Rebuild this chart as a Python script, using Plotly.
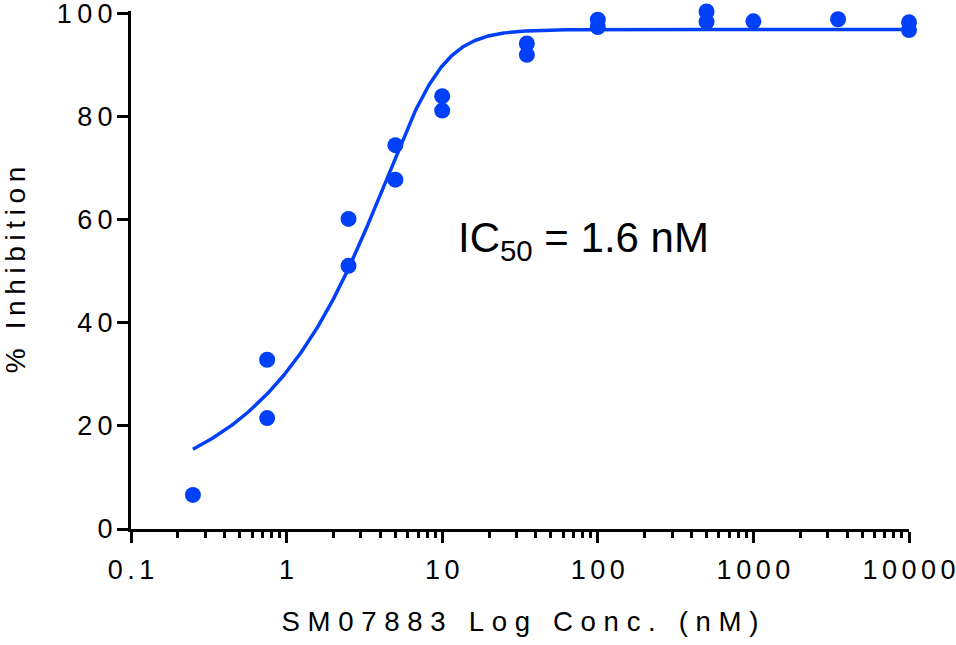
import numpy as np
import plotly.graph_objects as go

# ---- data ----
conc_nM = [0.25, 0.75, 0.75, 2.5, 2.5, 5, 5, 10, 10, 35, 35,
           100, 100, 500, 500, 1000, 3500, 10000, 10000]
inhibition = [6.6, 32.8, 21.5, 60.1, 51.0, 74.4, 67.7, 83.9, 81.1, 94.1, 91.9,
              98.7, 97.3, 100.3, 98.3, 98.4, 98.8, 98.2, 96.7]

# fitted (asymmetric logistic) curve parameters
fit_bottom, fit_top, fit_c, fit_hill, fit_asym = 5.0, 96.8, 7.31, 2.8, 0.23
curve_min, curve_max = 0.25, 10000

x_tick_vals = [0.1, 1, 10, 100, 1000, 10000]
x_tick_text = ["0.1", "1", "10", "100", "1000", "10000"]
y_tick_vals = [0, 20, 40, 60, 80, 100]
y_tick_text = ["0", "20", "40", "60", "80", "100"]

x_title = "SM07883 Log Conc. (nM)"
y_title = "% Inhibition"

THIN = "\u2009"
SIXTH = "\u2006"
PUNCT = "\u2008"


def spaced(s, sep):
    return sep.join(list(s))


BLUE = "#0040F8"
FONT = "Liberation Sans, Arial, sans-serif"

xc = np.logspace(np.log10(curve_min), np.log10(curve_max), 600)
yc = fit_bottom + (fit_top - fit_bottom) / (1 + (fit_c / xc) ** fit_hill) ** fit_asym

minor_vals = [m * 10.0 ** d for d in range(-1, 4) for m in range(2, 10)]

fig = go.Figure()
fig.add_trace(go.Scatter(x=xc, y=yc, mode="lines",
                         line=dict(color=BLUE, width=3.5),
                         hoverinfo="skip", showlegend=False, cliponaxis=False))
fig.add_trace(go.Scatter(x=conc_nM, y=inhibition, mode="markers",
                         marker=dict(color=BLUE, size=16, line=dict(width=0)),
                         showlegend=False, cliponaxis=False))

fig.update_layout(
    width=956, height=645,
    margin=dict(l=131, r=47, t=11, b=116, autoexpand=False),
    plot_bgcolor="white", paper_bgcolor="white",
    font=dict(family=FONT, size=28, color="black"),
    xaxis=dict(
        type="log", range=[-1, 4], showgrid=False, zeroline=False,
        showline=True, linecolor="black", linewidth=3,
        ticks="outside", ticklen=11, tickwidth=3, tickcolor="black",
        tickmode="array", tickvals=x_tick_vals,
        ticktext=[spaced(t, SIXTH) for t in x_tick_text],
        tickfont=dict(family=FONT, size=27, color="black"),
        ticklabelstandoff=4, ticklabeloverflow="allow",
        minor=dict(ticks="outside", ticklen=6, tickwidth=3, tickcolor="black",
                   tickmode="array", tickvals=minor_vals, showgrid=False),
        title=dict(text=spaced(x_title, PUNCT),
                   font=dict(family=FONT, size=27.6, color="black"), standoff=28),
        automargin=False,
    ),
    yaxis=dict(
        range=[0, 100.4], showgrid=False, zeroline=False,
        showline=True, linecolor="black", linewidth=3,
        ticks="outside", ticklen=11, tickwidth=3, tickcolor="black",
        tickmode="array", tickvals=y_tick_vals,
        ticktext=[spaced(t, THIN) for t in y_tick_text],
        tickfont=dict(family=FONT, size=27, color="black"),
        ticklabelstandoff=-1, ticklabeloverflow="allow",
        title=dict(text=spaced(y_title, THIN),
                   font=dict(family=FONT, size=28, color="black"), standoff=26),
        automargin=False,
    ),
    annotations=[dict(
        x=np.log10(12.3), y=56, xref="x", yref="y",
        text="IC<sub>50</sub> = 1.6 nM", showarrow=False,
        xanchor="left", yanchor="middle",
        font=dict(family=FONT, size=42, color="black"),
    )],
)

fig.write_html("out.html")
